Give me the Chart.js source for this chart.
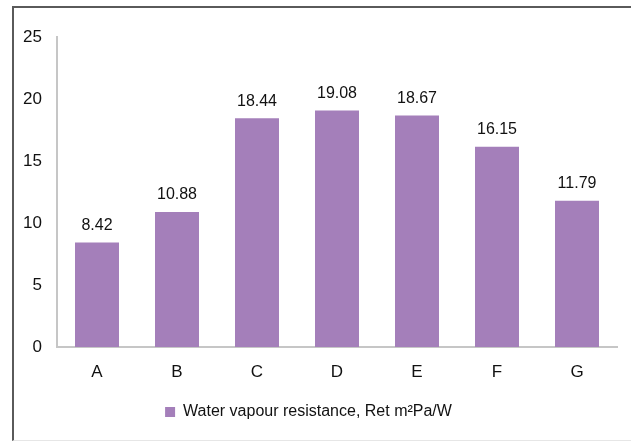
<!DOCTYPE html>
<html>
<head>
<meta charset="utf-8">
<script src="https://cdn.jsdelivr.net/npm/chart.js@4"></script>
<style>
  html, body { margin: 0; padding: 0; background: #fff; }
  #wrap { position: relative; width: 631px; height: 442px; overflow: hidden; }
  #frame {
    position: absolute; left: 12px; top: 6px; width: 660px; height: 435px;
    box-sizing: border-box; pointer-events: none;
    border-left: 2px solid #5a5a5a; border-top: 2px solid #5a5a5a; border-bottom: 1px solid #e6e6e6;
  }
</style>
</head>
<body>
<div id="wrap">
  <canvas id="chart" width="631" height="442"></canvas>
  <div id="frame"></div>
</div>
<script>
// ---- data ----
const categories = ["A", "B", "C", "D", "E", "F", "G"];
const retValues  = [8.42, 10.88, 18.44, 19.08, 18.67, 16.15, 11.79];
const seriesName = "Water vapour resistance, Ret m\u00B2Pa/W";
const yTicks     = [0, 5, 10, 15, 20, 25];

const FONT = '"Liberation Sans", Arial, sans-serif';
const barColor = '#a47fba';

// value labels above the bars
const valueLabels = {
  id: 'valueLabels',
  afterDatasetsDraw(chart) {
    const ctx = chart.ctx;
    const meta = chart.getDatasetMeta(0);
    ctx.save();
    ctx.font = '16px ' + FONT;
    ctx.fillStyle = '#111';
    ctx.textAlign = 'center';
    ctx.textBaseline = 'bottom';
    meta.data.forEach((bar, i) => {
      ctx.fillText(retValues[i].toFixed(2), bar.x, bar.y - 9);
    });
    ctx.restore();
  }
};

new Chart(document.getElementById('chart'), {
  type: 'bar',
  data: {
    labels: categories,
    datasets: [{
      label: seriesName,
      data: retValues,
      backgroundColor: barColor,
      borderWidth: 0,
      categoryPercentage: 1,
      barPercentage: 0.55
    }]
  },
  options: {
    responsive: false,
    animation: false,
    layout: { padding: { top: 37, right: 14, left: 0, bottom: 12 } },
    scales: {
      x: {
        grid: { display: false, drawTicks: false },
        border: { display: true, color: '#c6c6c6', width: 2 },
        ticks: { color: '#111', font: { family: FONT, size: 17 }, padding: 15 },
        afterFit: s => { s.height = 47; }
      },
      y: {
        min: 0, max: 25,
        grid: { display: false, drawTicks: false },
        border: { display: true, color: '#c6c6c6', width: 2 },
        ticks: { color: '#111', font: { family: FONT, size: 17 }, padding: 15, stepSize: 5 },
        afterBuildTicks: s => { s.ticks = yTicks.map(v => ({ value: v })); },
        afterFit: s => { s.width = 57; }
      }
    },
    plugins: {
      legend: {
        position: 'bottom',
        labels: {
          color: '#111',
          font: { family: FONT, size: 16 },
          boxWidth: 10, boxHeight: 10, padding: 10
        }
      },
      tooltip: { enabled: false }
    }
  },
  plugins: [valueLabels]
});
</script>
</body>
</html>
